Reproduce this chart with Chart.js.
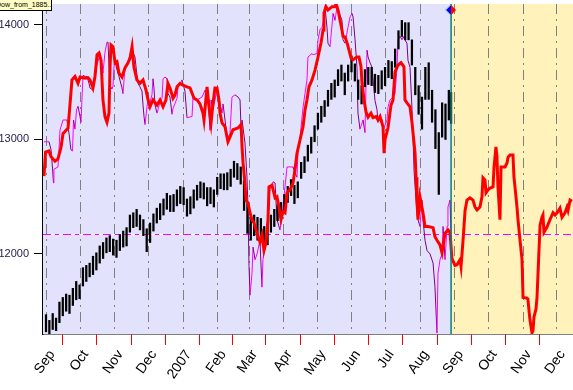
<!DOCTYPE html>
<html>
<head>
<meta charset="utf-8">
<script src="https://cdn.jsdelivr.net/npm/chart.js@4.4.1/dist/chart.umd.min.js"></script>
<style>
html, body { margin: 0; padding: 0; background: #fff; overflow: hidden; }
#wrap { position: relative; width: 573px; height: 390px; }
#tag { position: absolute; left: -6px; top: -1px; width: 55px; height: 10px; overflow: hidden;
       padding: 0 0 0 1px; background: #ffffc4; border: 1px solid #000;
       font: 7px "Liberation Sans", Arial, sans-serif; line-height: 10px; white-space: nowrap; }
</style>
</head>
<body>
<div id="wrap">
  <canvas id="chart" width="573" height="390"></canvas>
  <div id="tag">Dow_from_1885..</div>
</div>
<script>
// x values are days counted from 1 Sep 2006
const monthDays = [0, 30, 61, 91, 122, 153, 181, 212, 242, 273, 303, 334, 365, 395, 426, 456];
const monthLabels = ['Sep', 'Oct', 'Nov', 'Dec', '2007', 'Feb', 'Mar', 'Apr', 'May', 'Jun', 'Jul', 'Aug', 'Sep', 'Oct', 'Nov', 'Dec'];
const yTicks = [12000, 13000, 14000];
const forecastStart = 362;   // projection starts here (yellow zone)
const refLevel = 12172;      // dashed magenta level

// index bars (low / high)
const blackDays = [0, 3, 6, 9, 12, 15, 18, 21, 24, 27, 30, 33, 36, 39, 42, 45, 48, 51, 54, 57,
  60, 63, 66, 69, 72, 75, 78, 81, 84, 87, 90, 93, 96, 99, 102, 105, 108, 111, 114, 117,
  120, 123, 126, 129, 132, 135, 138, 141, 144, 147, 150, 153, 156, 159, 162, 165, 168, 171, 174, 177,
  180, 183, 186, 189, 192, 195, 198, 201, 204, 207, 210, 213, 216, 219, 222, 225, 228, 231, 234, 237,
  240, 243, 246, 249, 252, 255, 258, 261, 264, 267, 270, 273, 276, 279, 282, 285, 288, 291, 294, 297,
  300, 303, 306, 309, 312, 315, 318, 321, 324, 327, 330, 333, 336, 339, 342, 345, 348, 351, 354, 357,
  360, 362];
const blackLow = [11320, 11300, 11340, 11330, 11400, 11460, 11500, 11480, 11550, 11600, 11610, 11720, 11760, 11800, 11820, 11860, 11920, 11960, 12010, 12020,
  11990, 11970, 12030, 12060, 12070, 12190, 12230, 12240, 12210, 12160, 12020, 12100, 12200, 12270, 12300, 12340, 12390, 12370, 12370, 12420,
  12440, 12430, 12330, 12350, 12400, 12470, 12490, 12480, 12420, 12440, 12410, 12520, 12570, 12560, 12560, 12590, 12670, 12650, 12610, 12380,
  12180, 12120, 12160, 12120, 12140, 12040, 12080, 12190, 12240, 12290, 12310, 12380, 12450, 12510, 12440, 12490, 12660, 12710, 12810, 12880,
  12980, 13090, 13150, 13200, 13290, 13350, 13370, 13470, 13510, 13390, 13510, 13590, 13510, 13350, 13310, 13460, 13480, 13470, 13410, 13400,
  13440, 13470, 13540, 13530, 13630, 13790, 13900, 13870, 13870, 13650, 13390, 13220, 13090, 13350, 13350, 13150, 12920, 12520, 13020, 13000,
  13170, 13140];
const blackHigh = [11470, 11420, 11480, 11440, 11580, 11620, 11650, 11640, 11700, 11760, 11730, 11880, 11900, 11920, 11980, 12010, 12070, 12100, 12140, 12160,
  12130, 12120, 12170, 12200, 12230, 12340, 12360, 12390, 12340, 12300, 12220, 12270, 12350, 12400, 12440, 12480, 12530, 12510, 12520, 12560,
  12590, 12580, 12480, 12500, 12560, 12600, 12630, 12620, 12580, 12580, 12560, 12670, 12700, 12700, 12710, 12740, 12810, 12790, 12760, 12640,
  12440, 12320, 12340, 12320, 12310, 12240, 12260, 12340, 12390, 12430, 12450, 12520, 12590, 12650, 12600, 12630, 12800, 12850, 12950, 13020,
  13120, 13230, 13290, 13340, 13430, 13490, 13520, 13610, 13650, 13580, 13650, 13730, 13660, 13520, 13470, 13610, 13630, 13630, 13570, 13560,
  13600, 13630, 13690, 13680, 13790, 13950, 14040, 14020, 14020, 13870, 13630, 13470, 13370, 13630, 13670, 13430, 13260, 13060, 13320, 13310,
  13430, 13410];

// thick red analogue path (runs on into the projection zone)
const redDays = [-1.8, -0.4, 2.7, 4.5, 8.0, 10.7, 13.4, 15.2, 17.9, 19.7, 21.4, 23.2, 25.9, 28.6, 30.4, 34.9, 37.5, 39.3, 42.0, 43.8,
  45.6, 47.4, 49.2, 50.9, 52.7, 54.5, 56.3, 57.2, 58.1, 59.9, 61.7, 63.4, 65.2, 67.9, 70.6, 73.3, 75.1, 76.9, 78.6, 81.3,
  84.0, 86.7, 89.4, 91.2, 92.9, 95.6, 99.2, 101.9, 104.6, 107.2, 109.0, 110.8, 113.5, 115.3, 117.1, 119.8, 122.4, 126.0, 128.7, 132.3,
  134.9, 137.6, 140.3, 141.2, 143.9, 145.7, 147.5, 149.2, 151.0, 152.8, 154.6, 155.5, 157.3, 160.0, 162.6, 164.4, 167.1, 171.6, 174.3, 175.2,
  176.1, 177.8, 178.7, 180.5, 182.3, 184.1, 185.9, 187.7, 189.5, 191.2, 193.0, 194.8, 196.6, 198.4, 199.3, 202.0, 204.7, 206.4, 208.2, 210.0,
  211.8, 213.6, 215.4, 218.1, 220.7, 222.5, 224.3, 227.0, 229.7, 231.5, 233.2, 235.0, 237.7, 240.4, 243.1, 245.8, 247.6, 248.4, 250.2, 252.0,
  255.6, 258.3, 259.2, 261.0, 262.7, 264.5, 265.4, 267.2, 269.0, 270.8, 272.6, 274.4, 276.2, 277.9, 279.7, 281.5, 282.4, 284.2, 286.0, 287.8,
  290.4, 292.2, 294.9, 296.7, 298.5, 301.2, 302.1, 303.0, 305.6, 308.3, 310.1, 311.9, 314.6, 317.3, 319.9, 320.8, 322.6, 325.3, 327.1, 329.8,
  330.7, 331.5, 332.4, 334.2, 336.9, 338.7, 341.4, 345.9, 347.6, 349.4, 352.1, 353.9, 356.6, 359.2, 361.0, 362.8, 365.5, 367.3, 370.0, 370.9,
  372.7, 374.5, 376.2, 378.9, 381.6, 383.4, 385.2, 387.8, 389.6, 390.5, 392.3, 393.2, 395.0, 396.8, 399.5, 400.4, 402.1, 403.0, 403.9, 404.8,
  405.7, 406.6, 410.2, 412.0, 412.9, 414.7, 417.3, 418.2, 420.0, 420.9, 421.8, 423.6, 425.4, 426.3, 429.9, 430.7, 431.6, 432.5, 434.3, 435.2,
  436.1, 437.9, 438.8, 439.7, 441.5, 443.2, 444.1, 445.0, 447.7, 450.4, 453.1, 454.9, 456.7, 459.3, 461.1, 463.8, 465.6, 466.5, 468.3, 470.1];
const redVals = [12680, 12890, 12900, 12850, 12810, 12830, 12930, 13050, 13080, 13100, 13300, 13520, 13550, 13490, 13545, 13535, 13540, 13520, 13450, 13550,
  13740, 13755, 13690, 13345, 13200, 13150, 13230, 13630, 13825, 13810, 13670, 13680, 13580, 13545, 13625, 13670, 13710, 13810, 13630, 13520,
  13490, 13520, 13430, 13345, 13285, 13345, 13300, 13345, 13285, 13345, 13490, 13450, 13360, 13390, 13460, 13490, 13475, 13460, 13450, 13360,
  13345, 13310, 13230, 13170, 13460, 13285, 13145, 13310, 13450, 13450, 13345, 13230, 13145, 13110, 12980, 13020, 13085, 13100, 13130, 12935,
  12795, 12620, 12470, 12445, 12360, 12300, 12270, 12210, 12150, 12105, 12165, 12030, 12100, 12300, 12585, 12600, 12490, 12500, 12410, 12300,
  12370, 12360, 12535, 12560, 12620, 12735, 12880, 12995, 13110, 13260, 13345, 13460, 13520, 13605, 13720, 13845, 13955, 14105, 14160, 14130,
  14160, 14160, 14185, 14130, 14045, 13955, 13900, 13895, 13845, 13780, 13710, 13695, 13710, 13720, 13720, 13635, 13495, 13345, 13240, 13195,
  13230, 13190, 13200, 13170, 13200, 13110, 12880, 13000, 13100, 13300, 13345, 13590, 13650, 13670, 13635, 13345, 13320, 13285, 13145, 12880,
  12670, 12470, 12300, 12500, 12360, 12240, 12240, 12230, 12150, 12120, 12080, 12010, 12180, 12210, 12190, 11960, 11900, 11905, 11950, 11890,
  12120, 12380, 12470, 12490, 12470, 12410, 12385, 12410, 12500, 12665, 12645, 12535, 12560, 12575, 12585, 12760, 12935, 12850, 12585, 12445,
  12300, 12760, 12760, 12795, 12845, 12865, 12865, 12670, 12500, 12410, 12300, 12120, 11950, 11620, 11615, 11600, 11510, 11425, 11310, 11330,
  11450, 11520, 11620, 11830, 12250, 12320, 12340, 12190, 12235, 12300, 12360, 12340, 12360, 12400, 12320, 12360, 12410, 12380, 12470, 12460];

// thin magenta analogue path
const magDays = [-1.8, 2.7, 4.5, 5.8, 6.7, 7.1, 10.7, 11.6, 12.5, 15.2, 18.8, 20.6, 22.3, 23.7, 24.6, 25.9, 27.3, 28.6, 30.4, 31.3,
  32.2, 33.1, 34.9, 36.6, 38.4, 39.3, 42.0, 43.8, 45.6, 48.3, 50.0, 50.9, 52.7, 54.5, 55.4, 56.3, 57.2, 59.0, 59.9, 60.8,
  61.7, 63.4, 65.2, 67.9, 68.8, 70.6, 72.4, 73.3, 75.1, 77.8, 79.5, 81.3, 82.2, 84.0, 85.8, 86.7, 87.6, 88.5, 90.3, 91.2,
  92.9, 94.7, 95.6, 96.5, 97.4, 99.2, 100.1, 101.9, 103.7, 104.6, 106.4, 108.1, 109.0, 110.8, 112.6, 113.5, 117.1, 118.0, 119.8, 121.5,
  124.2, 126.0, 130.5, 131.4, 134.9, 139.4, 142.1, 144.8, 146.6, 147.5, 149.2, 152.8, 153.7, 155.5, 157.3, 158.2, 160.0, 161.8, 164.4, 166.2,
  168.9, 171.6, 173.4, 174.3, 175.2, 177.8, 179.6, 180.5, 181.4, 182.3, 184.1, 185.0, 186.8, 188.6, 191.2, 193.0, 193.9, 195.7, 198.4, 200.2,
  202.9, 204.7, 206.4, 209.1, 210.9, 213.6, 215.4, 218.1, 220.7, 222.5, 224.3, 225.2, 227.0, 229.7, 233.2, 234.1, 237.7, 238.6, 242.2, 243.1,
  244.9, 246.7, 247.6, 249.3, 251.1, 252.0, 253.8, 255.6, 256.5, 258.3, 260.1, 261.0, 264.5, 265.4, 267.2, 269.9, 271.7, 273.5, 274.4, 276.2,
  277.9, 278.8, 280.6, 283.3, 285.1, 286.0, 286.9, 287.8, 289.6, 291.3, 292.2, 294.0, 295.8, 296.7, 298.5, 300.3, 301.2, 304.7, 305.6, 307.4,
  310.1, 311.9, 313.7, 314.6, 316.4, 318.2, 319.1, 320.8, 322.6, 323.5, 325.3, 327.1, 328.0, 328.9, 329.8, 331.5, 332.4, 334.2, 336.0, 336.9,
  338.7, 340.5, 343.2, 345.9, 347.6, 349.4, 350.3, 352.1, 353.9, 354.8, 356.6, 358.4, 359.2, 361.0, 361.9];
const magVals = [12980, 12980, 12910, 12750, 12620, 12740, 12760, 12910, 13080, 13170, 13170, 13050, 12910, 12900, 13170, 13090, 13260, 13290, 13200, 13150,
  13370, 13560, 13550, 13550, 13490, 13450, 13430, 13600, 13650, 13750, 13650, 13580, 13760, 13850, 13850, 13650, 13470, 13440, 13470, 13640,
  13680, 13610, 13550, 13450, 13400, 13630, 13650, 13680, 13740, 13760, 13720, 13560, 13490, 13460, 13420, 13300, 13200, 13130, 13290, 13345,
  13320, 13390, 13530, 13450, 13300, 13230, 13260, 13330, 13360, 13530, 13545, 13530, 13400, 13370, 13220, 13270, 13360, 13460, 13480, 13520,
  13420, 13190, 13200, 13370, 13345, 13370, 13430, 13345, 13080, 13345, 13260, 13430, 13400, 13310, 13230, 13310, 13170, 13000, 13050, 13370,
  13390, 13370, 13345, 13100, 13170, 12970, 12670, 12410, 11900, 11640, 11830, 12060, 11950, 12000, 12120, 11710, 11950, 12090, 12300, 12585,
  12630, 12620, 12300, 12210, 12320, 12590, 12760, 12760, 12760, 12710, 12670, 12910, 13020, 13280, 13520, 13720, 13750, 13740, 13750, 13870,
  13960, 13980, 14020, 14160, 13980, 13840, 13810, 14000, 14100, 14040, 14160, 14130, 14040, 13870, 13840, 13980, 14070, 14100, 14070, 13870,
  13630, 13230, 13090, 13170, 13060, 13500, 13780, 13720, 13670, 13630, 13540, 13340, 13260, 13150, 13200, 13170, 13080, 13170, 13280, 13345,
  13370, 13400, 13630, 13870, 13900, 13870, 13900, 13870, 13840, 13690, 13630, 13260, 13020, 12730, 12590, 12360, 12300, 12240, 12470, 12300,
  12120, 12030, 12000, 11920, 11710, 11310, 11830, 11950, 12000, 12240, 11950, 12240, 12410, 12470, 12200];

const FONT = '"Liberation Sans", Arial, sans-serif';

const backdrop = {
  id: 'backdrop',
  beforeDatasetsDraw(chart) {
    const { ctx, chartArea: a, scales: { x, y } } = chart;
    const split = x.getPixelForValue(forecastStart);
    ctx.save();
    ctx.fillStyle = '#e2e2fc';
    ctx.fillRect(a.left, a.top, split - a.left, a.bottom - a.top);
    ctx.fillStyle = '#fff3bb';
    ctx.fillRect(split, a.top, a.right - split, a.bottom - a.top);
    // month grid
    ctx.strokeStyle = '#808080';
    ctx.lineWidth = 1;
    ctx.setLineDash([10, 5, 2, 5]);
    monthDays.forEach(d => {
      const px = Math.round(x.getPixelForValue(d)) + 0.5;
      ctx.beginPath(); ctx.moveTo(px, a.top); ctx.lineTo(px, a.bottom); ctx.stroke();
    });
    // reference level
    const py = Math.round(y.getPixelForValue(refLevel)) + 0.5;
    ctx.setLineDash([]);
    ctx.strokeStyle = '#ffffff';
    ctx.beginPath(); ctx.moveTo(a.left, py); ctx.lineTo(a.right, py); ctx.stroke();
    ctx.setLineDash([8, 4, 4, 4]);
    ctx.strokeStyle = '#ff00ff';
    ctx.beginPath(); ctx.moveTo(a.left, py); ctx.lineTo(a.right, py); ctx.stroke();
    ctx.restore();
  },
  afterDatasetsDraw(chart) {
    const { ctx, chartArea: a, scales: { x } } = chart;
    const px = x.getPixelForValue(forecastStart);
    ctx.save();
    ctx.strokeStyle = '#008080';
    ctx.lineWidth = 1.5;
    ctx.beginPath(); ctx.moveTo(px, a.top); ctx.lineTo(px, a.bottom); ctx.stroke();
    const cy = a.top + 6;
    ctx.fillStyle = '#0000ff';
    ctx.beginPath(); ctx.moveTo(px, cy - 5); ctx.lineTo(px - 5, cy); ctx.lineTo(px, cy + 5); ctx.closePath(); ctx.fill();
    ctx.fillStyle = '#ff0000';
    ctx.beginPath(); ctx.moveTo(px, cy - 5); ctx.lineTo(px + 5, cy); ctx.lineTo(px, cy + 5); ctx.closePath(); ctx.fill();
    ctx.strokeStyle = '#4aa8ff';
    ctx.lineWidth = 0.8;
    ctx.beginPath(); ctx.moveTo(px, cy - 5.5); ctx.lineTo(px - 5.5, cy); ctx.lineTo(px, cy + 5.5); ctx.stroke();
    ctx.restore();
  }
};

new Chart(document.getElementById('chart'), {
  type: 'line',
  data: {
    datasets: [
      {
        type: 'line', label: 'red', order: 0,
        data: redDays.map((d, i) => ({ x: d, y: redVals[i] })),
        borderColor: '#ff0000', borderWidth: 3, pointRadius: 0, tension: 0, fill: false
      },
      {
        type: 'bar', label: 'index', order: 1,
        data: blackDays.map((d, i) => ({ x: d, y: [blackLow[i], blackHigh[i]] })),
        backgroundColor: '#000000', barThickness: 1.6, grouped: false
      },
      {
        type: 'line', label: 'magenta', order: 2,
        data: magDays.map((d, i) => ({ x: d, y: magVals[i] })),
        borderColor: '#ff00ff', borderWidth: 1, pointRadius: 0, tension: 0, fill: false,
        segment: { borderColor: c => c.p1.parsed.y < c.p0.parsed.y ? '#800080' : '#ff00ff' }
      }
    ]
  },
  options: {
    responsive: false,
    animation: false,
    layout: { padding: { top: 4, right: 0, left: 0, bottom: 0 } },
    plugins: { legend: { display: false }, tooltip: { enabled: false } },
    scales: {
      x: {
        type: 'linear', min: -2.68, max: 470.95, offset: false,
        afterBuildTicks: s => { s.ticks = monthDays.map(v => ({ value: v })); },
        afterFit: s => { s.height = 56; s.paddingLeft = 0; s.paddingRight = 0; },
        grid: { drawOnChartArea: false, drawTicks: true, tickLength: 11, tickColor: '#ff0000', tickWidth: 1 },
        border: { display: true, color: '#000000', width: 1.5 },
        ticks: {
          autoSkip: false, minRotation: 55, maxRotation: 55, padding: 2, labelOffset: 6,
          color: '#000000', font: { family: FONT, size: 14 },
          callback: (v, i) => monthLabels[i]
        }
      },
      y: {
        type: 'linear', min: 11301, max: 14183,
        afterBuildTicks: s => { s.ticks = yTicks.map(v => ({ value: v })); },
        afterFit: s => { s.width = 43; s.paddingTop = 0; s.paddingBottom = 0; },
        grid: { drawOnChartArea: false, drawTicks: true, tickLength: 9, tickColor: '#000000' },
        border: { display: true, color: '#000000', width: 1.5 },
        ticks: { padding: 5, color: '#2a2050', font: { family: FONT, size: 11 }, callback: v => String(v) }
      }
    }
  },
  plugins: [backdrop]
});
</script>
</body>
</html>
